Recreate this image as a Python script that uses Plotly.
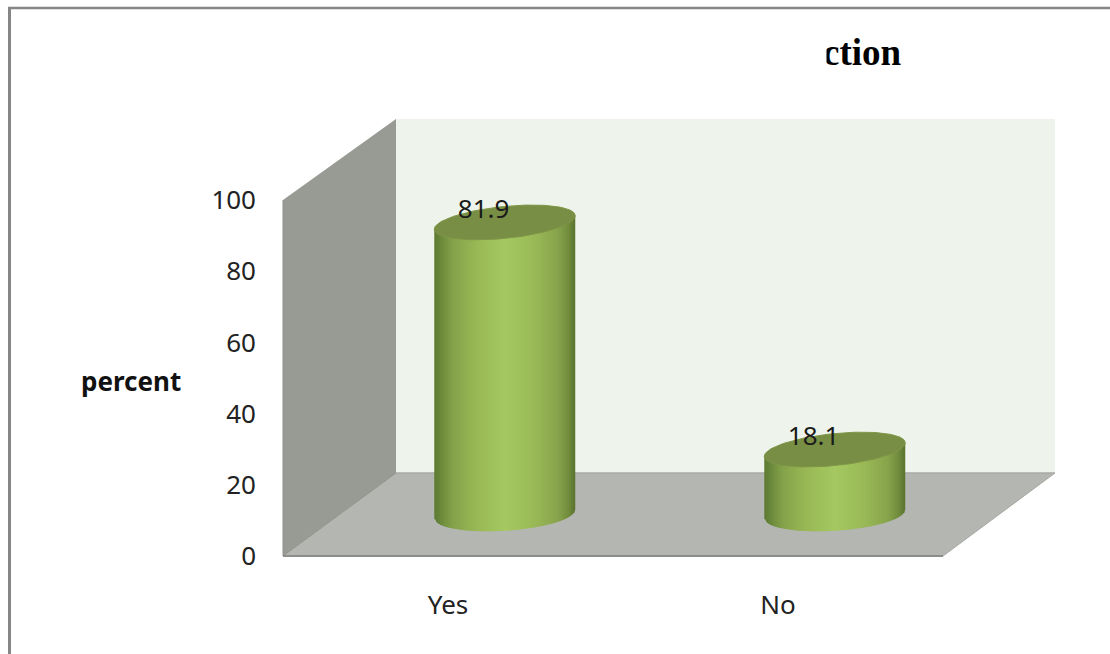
import numpy as np
import plotly.graph_objects as go

# Chart data
categories = ["Yes", "No"]
percent = [81.9, 18.1]
y_ticks = [0, 20, 40, 60, 80, 100]
title_text = "ction"
y_label = "percent"

W, H = 1110, 654
LABEL_FONT = "Noto Sans, Open Sans, sans-serif"


def px(x):
    return x / W


def py(y):
    return 1 - y / H


def poly(points, fill, line=None, width=0):
    path = "M " + " L ".join(f"{px(x):.5f},{py(y):.5f}" for x, y in points) + " Z"
    return dict(type="path", xref="paper", yref="paper", path=path, fillcolor=fill,
                line=dict(color=line or fill, width=width), layer="below")


def hline(x0, y0, x1, y1, color, width):
    return dict(type="line", xref="paper", yref="paper", x0=px(x0), y0=py(y0), x1=px(x1), y1=py(y1),
                line=dict(color=color, width=width), layer="below")


shapes = [
    poly([(396, 119), (1055, 119), (1055, 473), (396, 473)], "#eef4eb"),
    poly([(283, 200), (396, 119), (396, 473), (283, 556)], "#989a94"),
    poly([(283, 556), (396, 473), (1055, 473), (943, 556)], "#b4b6b1"),
    hline(396, 473, 1055, 473, "#a9aba6", 1.5),
    hline(283, 556, 396, 473, "#8f918c", 1),
    hline(283, 556, 943, 556, "#8c8e8a", 2),
    hline(283, 200, 283, 556, "#8f918c", 1),
    hline(943, 556, 1055, 473, "#a6a8a3", 1),
    hline(9.5, 8, 9.5, 654, "#868686", 3),
    hline(8, 8, 1110, 8, "#868686", 2.5),
]

# Cylinder geometry in axis units (one category = 330 px, 100 percent = 356 px)
DEPTH_X = 0.172
DEPTH_Y = 11.8
RADIUS_X = 0.2136
RADIUS_Y_TOP = 4.5
RADIUS_Y_BOTTOM = 4.7
SKEW_TOP = 1.9
SKEW_BOTTOM = 1.2
STRIPS = 70

stops = [0.0, 0.05, 0.13, 0.3, 0.5, 0.7, 0.87, 0.95, 1.0]
reds = [0x5c, 0x6c, 0x84, 0x99, 0xa5, 0x9a, 0x88, 0x72, 0x58]
greens = [0x7a, 0x8a, 0xa2, 0xb8, 0xc8, 0xba, 0xa5, 0x8d, 0x72]
blues = [0x33, 0x3b, 0x4a, 0x56, 0x61, 0x58, 0x4c, 0x3e, 0x2e]


def side_colour(u):
    r = np.interp(u, stops, reds)
    g = np.interp(u, stops, greens)
    b = np.interp(u, stops, blues)
    return f"rgb({r:.0f},{g:.0f},{b:.0f})"


fig = go.Figure()

for i, value in enumerate(percent):
    cx = i + DEPTH_X
    top = DEPTH_Y + value

    # Curved side, painted as narrow overlapping vertical strips
    for k in range(STRIPS):
        u0 = k / STRIPS
        u1 = min(1.0, (k + 1.6) / STRIPS)
        c0, c1 = 2 * u0 - 1, 2 * u1 - 1
        xs = [cx + RADIUS_X * c0, cx + RADIUS_X * c1, cx + RADIUS_X * c1, cx + RADIUS_X * c0]
        ys = [
            DEPTH_Y + SKEW_BOTTOM * c0 - RADIUS_Y_BOTTOM * np.sqrt(1 - c0 ** 2),
            DEPTH_Y + SKEW_BOTTOM * c1 - RADIUS_Y_BOTTOM * np.sqrt(1 - c1 ** 2),
            top + SKEW_TOP * c1,
            top + SKEW_TOP * c0,
        ]
        fig.add_trace(go.Scatter(x=xs, y=ys, mode="lines", fill="toself",
                                 fillcolor=side_colour(u0 + 0.5 / STRIPS),
                                 line=dict(width=0), hoverinfo="skip", showlegend=False))

    # Top cap of the cylinder
    t = np.linspace(0, 2 * np.pi, 121)
    fig.add_trace(go.Scatter(x=cx + RADIUS_X * np.cos(t),
                             y=top + SKEW_TOP * np.cos(t) + RADIUS_Y_TOP * np.sin(t),
                             mode="lines", fill="toself", fillcolor="#788e44",
                             line=dict(color="#7f9648", width=1), hoverinfo="skip", showlegend=False))

# Value labels above each cylinder
fig.add_trace(go.Scatter(x=[i + 0.108 for i in range(len(percent))],
                         y=[v + 14.9 for v in percent],
                         mode="text", text=[f"{v}" for v in percent], textposition="middle center",
                         textfont=dict(family=LABEL_FONT, size=26, color="#1a1a1a"),
                         cliponaxis=False, hoverinfo="skip", showlegend=False))

annotations = [
    dict(text=f"<b>{title_text}</b>", xref="paper", yref="paper", x=px(821), y=py(67), xanchor="left",
         yanchor="bottom", showarrow=False, yshift=-8, font=dict(family="Liberation Serif", size=37, color="#000000")),
    # White block trims the first letter of the heading
    dict(text=" ", xref="paper", yref="paper", x=px(827), y=py(53), xanchor="right", yanchor="middle",
         showarrow=False, width=24, height=44, bgcolor="#ffffff", font=dict(size=10)),
    dict(text=f"<b>{y_label}</b>", xref="paper", yref="paper", x=px(131), y=py(381), xanchor="center",
         yanchor="middle", showarrow=False, font=dict(family=LABEL_FONT, size=26, color="#111111")),
]

fig.update_layout(
    width=W, height=H, margin=dict(l=0, r=0, t=0, b=0, autoexpand=False),
    paper_bgcolor="#ffffff", plot_bgcolor="rgba(0,0,0,0)", showlegend=False,
    shapes=shapes, annotations=annotations,
    xaxis=dict(domain=[px(283), px(943)], range=[-0.5, 1.5], tickmode="array",
               tickvals=list(range(len(categories))), ticktext=categories, showgrid=False,
               zeroline=False, showline=False, ticks="", ticklabelstandoff=31, fixedrange=True,
               tickfont=dict(family=LABEL_FONT, size=26, color="#222222")),
    yaxis=dict(domain=[py(556), py(200)], range=[0, 100], tickmode="array", tickvals=y_ticks,
               showgrid=False, zeroline=False, showline=False, ticks="", ticklabelstandoff=26,
               fixedrange=True, tickfont=dict(family=LABEL_FONT, size=26, color="#222222")),
)

fig.write_html("out.html", config=dict(displayModeBar=False))
